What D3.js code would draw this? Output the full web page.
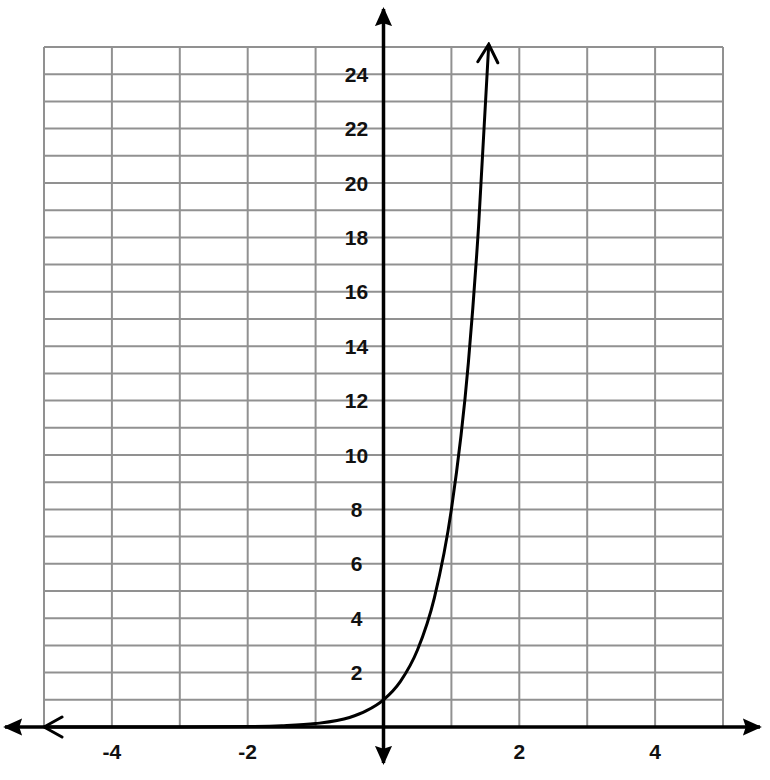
<!DOCTYPE html>
<html>
<head>
<meta charset="utf-8">
<script src="https://cdn.jsdelivr.net/npm/d3@7"></script>
<style>
body { margin: 0; background: #fff; }
svg text { font-family: "Liberation Sans", Arial, sans-serif; font-weight: bold; font-size: 21px; fill: #111; }
</style>
</head>
<body>
<div id="chart"></div>
<script>
// values
var curveX = [-5, -4, -3, -2, -1.5, -1, -0.5, -0.25, 0, 0.25, 0.5, 0.75, 1, 1.25, 1.4, 1.55];
var curveY = [0, 0, 0.002, 0.016, 0.045, 0.125, 0.35, 0.6, 1, 1.68, 2.83, 4.76, 8, 13.4, 18.4, 25.1];
var xTicks = [-4, -2, 2, 4];
var yTicks = [2, 4, 6, 8, 10, 12, 14, 16, 18, 20, 22, 24];

var width = 770, height = 780;
var svg = d3.select('#chart').append('svg')
	.attr('width', width)
	.attr('height', height);

var x = d3.scaleLinear().domain([-5, 5]).range([44, 723]);
var y = d3.scaleLinear().domain([0, 25]).range([727, 47]);

var defs = svg.append('defs');
defs.append('marker')
	.attr('id', 'solid')
	.attr('viewBox', '0 0 10 10')
	.attr('refX', 9).attr('refY', 5)
	.attr('markerWidth', 19).attr('markerHeight', 19)
	.attr('markerUnits', 'userSpaceOnUse')
	.attr('orient', 'auto-start-reverse')
	.append('path')
	.attr('d', 'M0,0.5L10,5L0,9.5L1.5,5Z')
	.style('fill', '#000');
defs.append('marker')
	.attr('id', 'open')
	.attr('viewBox', '0 0 12 12')
	.attr('refX', 11).attr('refY', 6)
	.attr('markerWidth', 24).attr('markerHeight', 24)
	.attr('markerUnits', 'userSpaceOnUse')
	.attr('orient', 'auto-start-reverse')
	.append('path')
	.attr('d', 'M2,1L11,6L2,11')
	.style('fill', 'none')
	.style('stroke', '#000')
	.style('stroke-width', 1.5)
	.style('stroke-linecap', 'round');

// grid
var grid = svg.append('g');
grid.selectAll('.vline').data(d3.range(-5, 6)).enter().append('line')
	.attr('x1', d => x(d)).attr('x2', d => x(d))
	.attr('y1', y(25)).attr('y2', y(0))
	.style('stroke', '#919191').style('stroke-width', 2);
grid.selectAll('.hline').data(d3.range(0, 26)).enter().append('line')
	.attr('x1', x(-5)).attr('x2', x(5))
	.attr('y1', d => y(d)).attr('y2', d => y(d))
	.style('stroke', '#919191').style('stroke-width', 2);

// axes
svg.append('line')
	.attr('x1', 5).attr('x2', 760)
	.attr('y1', y(0)).attr('y2', y(0))
	.style('stroke', '#000').style('stroke-width', 3.5)
	.attr('marker-start', 'url(#solid)').attr('marker-end', 'url(#solid)');
svg.append('line')
	.attr('x1', x(0)).attr('x2', x(0))
	.attr('y1', 763).attr('y2', 9)
	.style('stroke', '#000').style('stroke-width', 3.5)
	.attr('marker-start', 'url(#solid)').attr('marker-end', 'url(#solid)');

// tick labels
svg.selectAll('.xl').data(xTicks).enter().append('text')
	.attr('x', d => x(d)).attr('y', 759)
	.attr('text-anchor', 'middle')
	.text(d => d);
svg.selectAll('.yl').data(yTicks).enter().append('text')
	.attr('x', x(0) - 27).attr('y', d => y(d) + 7.5)
	.attr('text-anchor', 'middle')
	.text(d => d);

// curve
var pts = curveX.map((d, i) => [d, curveY[i]]);
var line = d3.line().x(d => x(d[0])).y(d => y(d[1])).curve(d3.curveMonotoneX);
svg.append('path')
	.attr('d', line(pts))
	.style('fill', 'none')
	.style('stroke', '#000')
	.style('stroke-width', 3)
	.attr('marker-start', 'url(#open)').attr('marker-end', 'url(#open)');
</script>
</body>
</html>
